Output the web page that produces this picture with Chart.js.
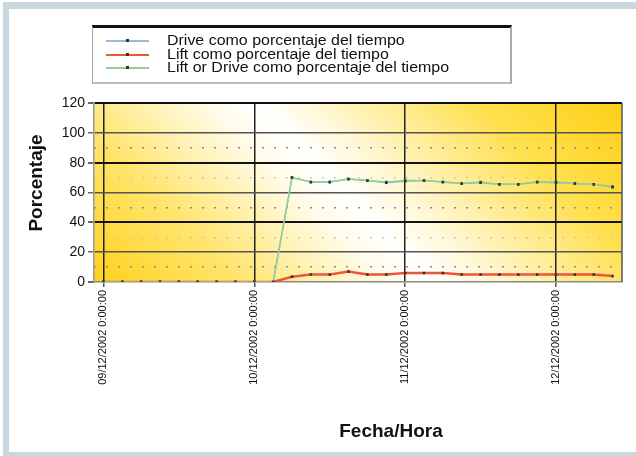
<!DOCTYPE html>
<html>
<head>
<meta charset="utf-8">
<script src="https://cdn.jsdelivr.net/npm/chart.js@4.4.1/dist/chart.umd.min.js"></script>
<style>
  html, body { margin: 0; padding: 0; background: #fff; overflow: hidden; }
  #wrap { position: relative; width: 636px; height: 456px; overflow: hidden; font-family: "Liberation Sans", Arial, sans-serif; }
  #frame { position: absolute; left: 3px; top: 2px; width: 633px; height: 454px; background: #c9d7e1; }
  #inner { position: absolute; left: 9px; top: 9px; width: 627px; height: 443px; background: #fff; }
  #chart { position: absolute; left: 0; top: 0; }
  #legend { position: absolute; left: 92px; top: 25px; width: 417px; height: 54px;
            border-top: 3px solid #111; border-left: 1px solid #aaa; border-right: 2px solid #aaa; border-bottom: 2px solid #bbb; }
  .row { position: absolute; left: 0; height: 14px; width: 100%; }
  .sample { position: absolute; left: 13px; width: 43px; top: 6px; }
  .dot { position: absolute; left: 20px; top: -1px; width: 3px; height: 3px; background: #333; }
  .txt { position: absolute; left: 74px; top: -2px; font-size: 14px; line-height: 16px; color: #111;
         white-space: nowrap; transform: scaleX(1.14); transform-origin: 0 50%; }
</style>
</head>
<body>
<div id="wrap">
  <div id="frame"></div>
  <div id="inner"></div>
  <canvas id="chart" width="636" height="456"></canvas>
  <div id="legend"></div>
</div>
<script>
// categorias: cada 3 horas
const categories = [
  '09/12/2002 0:00:00', '09/12/2002 3:00:00', '09/12/2002 6:00:00', '09/12/2002 9:00:00',
  '09/12/2002 12:00:00', '09/12/2002 15:00:00', '09/12/2002 18:00:00', '09/12/2002 21:00:00',
  '10/12/2002 0:00:00', '10/12/2002 3:00:00', '10/12/2002 6:00:00', '10/12/2002 9:00:00',
  '10/12/2002 12:00:00', '10/12/2002 15:00:00', '10/12/2002 18:00:00', '10/12/2002 21:00:00',
  '11/12/2002 0:00:00', '11/12/2002 3:00:00', '11/12/2002 6:00:00', '11/12/2002 9:00:00',
  '11/12/2002 12:00:00', '11/12/2002 15:00:00', '11/12/2002 18:00:00', '11/12/2002 21:00:00',
  '12/12/2002 0:00:00', '12/12/2002 3:00:00', '12/12/2002 6:00:00', '12/12/2002 9:00:00'
];

// series
const driveValues = [0, 0, 0, 0, 0, 0, 0, 0, 0, 0,
  70, 67, 67, 69, 68, 66.5, 67.5, 68, 67, 66, 66.5, 65.5, 65.5, 67, 66.5, 66, 65.5, 63.5];
const liftValues = [0, 0, 0, 0, 0, 0, 0, 0, 0, 0,
  3.5, 5, 5, 7, 5, 5, 6, 6, 6, 5, 5, 5, 5, 5, 5, 5, 5, 4];
const liftOrDriveValues = [0, 0, 0, 0, 0, 0, 0, 0, 0, 0,
  70, 67, 67, 69, 68, 67, 68, 68, 67, 66, 67, 65.5, 65.5, 67, 67, 66, 65.5, 64];

const seriesNames = [
  'Drive como porcentaje del tiempo',
  'Lift como porcentaje del tiempo',
  'Lift or Drive como porcentaje del tiempo'
];
const seriesColors = ['#9fb5e2', '#ee5634', '#8fd08f'];
const seriesWidths = [1.5, 2.5, 1.5];

// marcas del eje
const yTicks = [0, 20, 40, 60, 80, 100, 120];
const yDotted = [10, 30, 50, 70, 90];
const labelEvery = 8;

// leyenda en HTML
const legendEl = document.getElementById('legend');
seriesNames.forEach((name, i) => {
  const row = document.createElement('div');
  row.className = 'row';
  row.style.top = (6 + i * 13.7) + 'px';
  row.innerHTML = '<div class="sample" style="height:' + seriesWidths[i] + 'px;background:' + seriesColors[i] +
    '"><div class="dot"></div></div><span class="txt">' + name + '</span>';
  legendEl.appendChild(row);
});

// fondo degradado del area del grafico
const plotBackground = {
  id: 'plotBackground',
  beforeDraw(chart) {
    const { ctx, chartArea: a } = chart;
    const g = ctx.createLinearGradient(a.left, a.bottom, a.left + 360, a.bottom - 360);
    g.addColorStop(0, '#ffd11c');
    g.addColorStop(0.2, '#ffe46a');
    g.addColorStop(0.40, '#fffbe6');
    g.addColorStop(0.47, '#ffffff');
    g.addColorStop(0.55, '#fff8d8');
    g.addColorStop(0.78, '#ffe04e');
    g.addColorStop(1, '#ffcd10');
    ctx.save();
    ctx.fillStyle = g;
    ctx.fillRect(a.left, a.top, a.right - a.left, a.bottom - a.top);
    ctx.restore();
  },
  afterDraw(chart) {
    const { ctx, chartArea: a } = chart;
    ctx.save();
    ctx.strokeStyle = '#555';
    ctx.lineWidth = 1.5;
    ctx.beginPath();
    ctx.moveTo(a.right, a.top);
    ctx.lineTo(a.right, a.bottom);
    ctx.stroke();
    ctx.fillStyle = '#111';
    ctx.font = 'bold 19px "Liberation Sans", Arial, sans-serif';
    ctx.textAlign = 'center';
    ctx.textBaseline = 'middle';
    ctx.fillText('Fecha/Hora', 391, 432);
    ctx.translate(37, 183);
    ctx.rotate(-Math.PI / 2);
    ctx.fillText('Porcentaje', 0, 0);
    ctx.restore();
  }
};

const datasetValues = [driveValues, liftValues, liftOrDriveValues];

new Chart(document.getElementById('chart'), {
  type: 'line',
  data: {
    labels: categories,
    datasets: datasetValues.map((vals, i) => ({
      label: seriesNames[i],
      data: vals,
      borderColor: seriesColors[i],
      borderWidth: seriesWidths[i],
      backgroundColor: '#333',
      pointStyle: 'rect',
      pointRadius: 1.8,
      pointBorderWidth: 0,
      pointBackgroundColor: '#333',
      tension: 0,
      fill: false,
      order: 2 - i
    }))
  },
  options: {
    responsive: false,
    animation: false,
    layout: { padding: { top: 103, right: 14, bottom: 0, left: 0 } },
    plugins: { legend: { display: false }, tooltip: { enabled: false } },
    scales: {
      x: {
        offset: true,
        grid: {
          offset: false,
          color: c => (c.index % labelEvery === 0 ? '#222' : 'rgba(0,0,0,0)'),
          tickColor: c => (c.index % labelEvery === 0 ? '#555' : 'rgba(0,0,0,0)'),
          lineWidth: 1.5,
          tickLength: 5
        },
        border: { color: '#8a8a80', width: 1.5 },
        ticks: {
          autoSkip: false,
          minRotation: 90,
          maxRotation: 90,
          padding: 3,
          color: '#111',
          font: { family: '"Liberation Sans", Arial, sans-serif', size: 11 },
          callback(value, index) {
            return index % labelEvery === 0 ? this.getLabelForValue(value) : '';
          }
        },
        afterFit(scale) { scale.height = 174; }
      },
      y: {
        min: 0,
        max: 120,
        afterBuildTicks(scale) { scale.ticks = yTicks.map(v => ({ value: v })); },
        grid: {
          color: c => {
            const v = c.tick.value;
            if (v === 0) return 'rgba(0,0,0,0)';
            return (v % 40 === 0) ? '#111' : '#555';
          },
          lineWidth: c => (c.tick.value % 40 === 0 ? 2 : 1.5),
          tickColor: '#666',
          tickLength: 6
        },
        border: { color: '#999', width: 1.5 },
        ticks: {
          padding: 3,
          color: '#111',
          font: { family: '"Liberation Sans", Arial, sans-serif', size: 14 }
        },
        afterFit(scale) { scale.width = 94; }
      },
      y2: {
        position: 'left',
        min: 0,
        max: 120,
        afterBuildTicks(scale) { scale.ticks = yDotted.map(v => ({ value: v })); },
        grid: {
          drawTicks: false,
          color: c => (c.tick.value === 30 || c.tick.value === 70 ? '#d2c9a0' : '#8c8c8c'),
          lineWidth: 1.5
        },
        border: { display: false, dash: [2, 10] },
        ticks: { display: false },
        afterFit(scale) { scale.width = 0; }
      }
    }
  },
  plugins: [plotBackground]
});
</script>
</body>
</html>
